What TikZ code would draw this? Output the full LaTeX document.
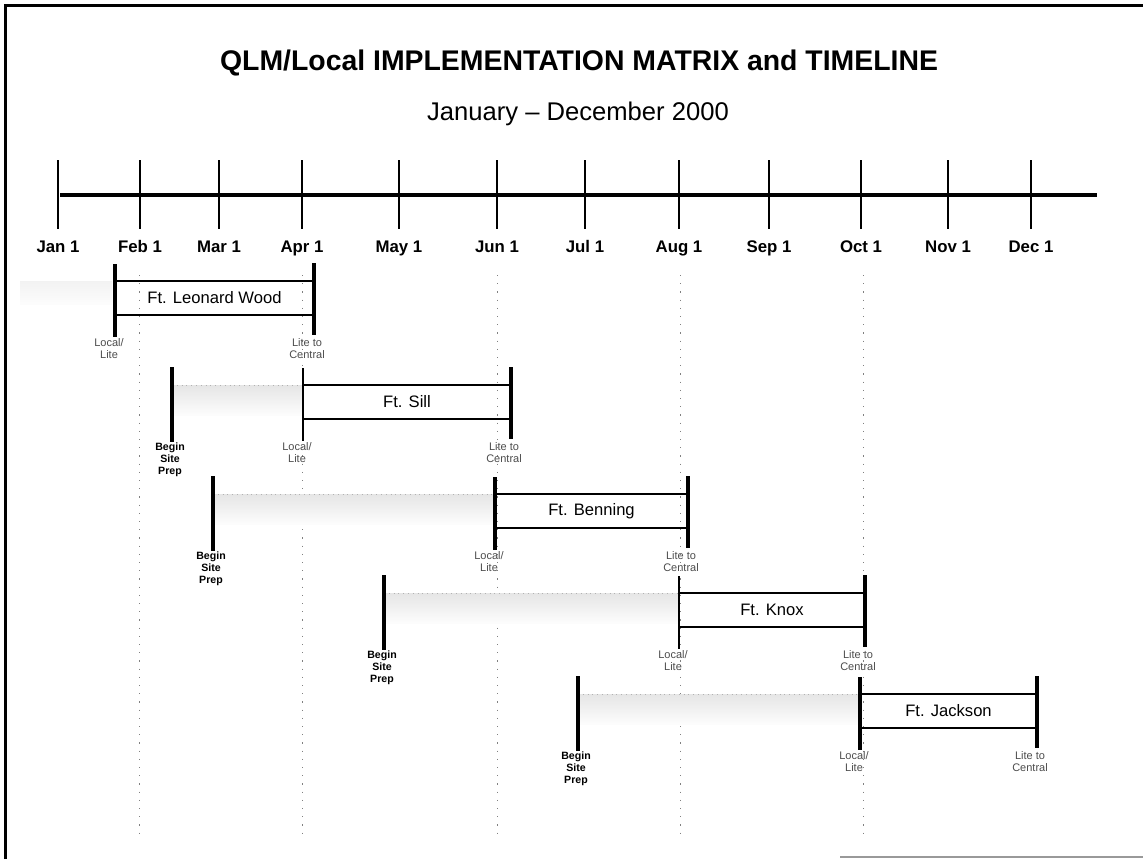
\documentclass[tikz,border=0pt]{standalone}
\usepackage{fontspec}
\setmainfont{Liberation Sans}
\usetikzlibrary{positioning, calc}

\begin{document}
\begin{tikzpicture}[x=0.5pt, y=-0.5pt, font=\fontsize{8.3}{10}\selectfont,
          axis/.style={line width=2pt},
          mtick/.style={line width=0.7pt},
          mon/.style={font=\bfseries\fontsize{8.4}{10}\selectfont, inner sep=0pt, anchor=base},
          rail/.style={line width=1pt},
          post/.style={line width=1.8pt},
          prep/.style={top color=black!10, bottom color=black!1, draw=none},
          guide/.style={black!50, line width=0.4pt, dash pattern=on 0.6pt off 3.5pt},
          ms/.style={font=\fontsize{5.5}{6.2}\selectfont, align=center, inner sep=0pt,
                     anchor=north, text=black!70},
          bsp/.style={ms, font=\bfseries\fontsize{5.3}{6.2}\selectfont, text=black}]
        \useasboundingbox (0,0) rectangle (1143,859);
        % frame
        \draw[line width=1.5pt] (5,859) -- (5,5) -- (1143,5);
        \draw[black!40, line width=0.8pt] (840,857) -- (1143,857);
        % heading
        \node[font=\bfseries\fontsize{14.2}{17}\selectfont] (title) at (579,63)
            {QLM/Local IMPLEMENTATION MATRIX and TIMELINE};
        \node[font=\fontsize{12.8}{15}\selectfont] (sub) at (578,114)
            {January -- December 2000};
        % month guides
        \foreach \x in {139,302,497,680,863}
          \draw[guide] (\x,275) -- (\x,840);
        % timeline
        \coordinate (t0) at (60,195);
        \coordinate (t1) at (1097,195);
        \draw[axis] (t0) -- (t1);
        \foreach \m/\x in {Jan/58, Feb/140, Mar/219, Apr/302, May/399, Jun/497,
                           Jul/585, Aug/679, Sep/769, Oct/861, Nov/948, Dec/1031} {
          \draw[mtick] (\x,160) -- (\x,229);
          \node[mon] (m\m) at (\x,252) {\m~1};
        }
        % Ft. Leonard Wood (no site prep post)
        \shade[prep, top color=black!5] (20,281) rectangle (112,304);
        % sites: name/label/top/begin/start/end/start post width
        \foreach \nm/\txt/\yt/\bx/\sx/\ex/\sw in {
            lw/Ft. Leonard Wood/281/0/115/314/1.8pt,
            si/Ft. Sill/385/172/303/511/0.8pt,
            be/Ft. Benning/494/213/495/688/1.8pt,
            kn/Ft. Knox/593/384/679/865/1.1pt,
            ja/Ft. Jackson/694/578/860/1037/1.8pt} {
          \coordinate (\nm-tl) at (\sx,\yt);
          \coordinate (\nm-tr) at (\ex,\yt);
          \coordinate (\nm-bl) at (\sx,{\yt+34});
          \coordinate (\nm-br) at (\ex,{\yt+34});
          \ifnum\bx>0
            \shade[prep] (\bx,\yt) rectangle (\sx,{\yt+30});
            \draw[black!30, dotted] (\bx,\yt) -- (\nm-tl);
            \draw[post] (\bx,{\yt-18}) -- (\bx,{\yt+57});
            \node[bsp] (\nm-prep) at ({\bx-2},{\yt+57}) {Begin\\Site\\Prep};
          \fi
          \draw[rail] (\nm-tl) -- (\nm-tr);
          \draw[rail] (\nm-bl) -- (\nm-br);
          \draw[line width=\sw] (\sx,{\yt-17}) -- (\sx,{\yt+56});
          \draw[post] (\ex,{\yt-18}) -- (\ex,{\yt+54});
          \node (\nm) at ($(\nm-tl)!0.5!(\nm-br)$) {\txt};
          \node[ms] (\nm-loc) at ({\sx-6},{\yt+57}) {Local/\\Lite};
          \node[ms] (\nm-cen) at ({\ex-7},{\yt+57}) {Lite to\\Central};
        }
      \end{tikzpicture}
\end{document}
